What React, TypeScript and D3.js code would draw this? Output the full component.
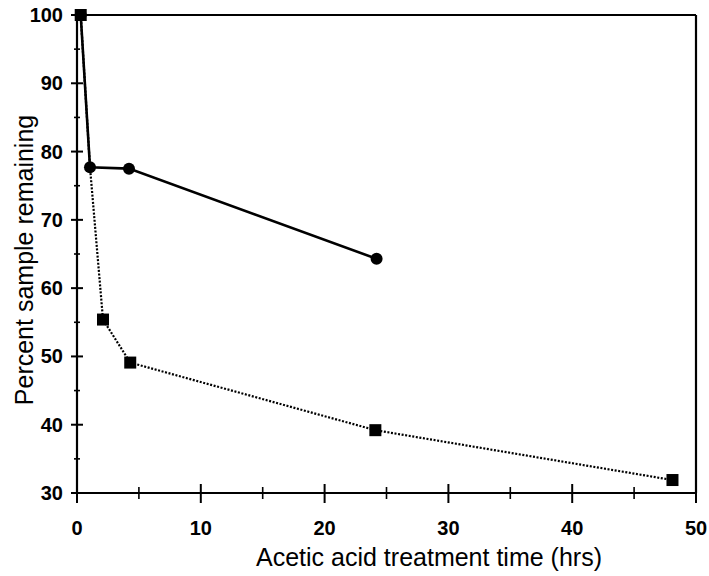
import React from "react";
import * as d3 from "d3";

const circleX = [0.3, 1.05, 4.2, 24.2];
const circleY = [100, 77.7, 77.5, 64.3];
const squareX = [0.3, 1.05, 2.1, 4.3, 24.1, 48.1];
const squareY = [100, 77.7, 55.4, 49.1, 39.2, 31.9];
const squareMarkerIdx = [0, 2, 3, 4, 5];
const xMajor = [0, 10, 20, 30, 40, 50];
const xMinor = [5, 15, 25, 35, 45];
const yMajor = [30, 40, 50, 60, 70, 80, 90, 100];
const yMinor = [35, 45, 55, 65, 75, 85, 95];
const xTitle = "Acetic acid treatment time (hrs)";
const yTitle = "Percent sample remaining";

export default function App() {
  const x = d3.scaleLinear().domain([0, 50]).range([77, 696]);
  const y = d3.scaleLinear().domain([30, 100]).range([493, 15]);
  const line = d3
    .line<[number, number]>()
    .x((d) => x(d[0]))
    .y((d) => y(d[1]));
  const cData: [number, number][] = circleX.map((v, i) => [v, circleY[i]]);
  const sData: [number, number][] = squareX.map((v, i) => [v, squareY[i]]);
  const font = "'Liberation Sans', Arial, Helvetica, sans-serif";
  return (
    <svg
      width={709}
      height={576}
      style={{ position: "absolute", left: 0, top: 0, background: "#fff" }}
    >
      <rect width={709} height={576} fill="#fff" />
      {/* frame */}
      <line x1={x(0)} x2={x(50)} y1={y(100)} y2={y(100)} stroke="#000" strokeWidth={2} />
      <line x1={x(50)} x2={x(50)} y1={y(100)} y2={y(30)} stroke="#000" strokeWidth={2.2} />
      <line x1={x(0)} x2={x(50)} y1={y(30)} y2={y(30)} stroke="#000" strokeWidth={2.2} />
      <line x1={x(0)} x2={x(0)} y1={y(100)} y2={y(30)} stroke="#000" strokeWidth={2.2} />
      {/* x ticks */}
      {xMajor.map((t) => (
        <line key={"xm" + t} x1={x(t)} x2={x(t)} y1={y(30) - 9} y2={y(30) + 10} stroke="#000" strokeWidth={2} />
      ))}
      {xMinor.map((t) => (
        <line key={"xn" + t} x1={x(t)} x2={x(t)} y1={y(30) - 6} y2={y(30) + 6} stroke="#000" strokeWidth={1.6} />
      ))}
      {/* y ticks */}
      {yMajor.map((t) => (
        <line key={"ym" + t} x1={x(0) - 6} x2={x(0) + 6} y1={y(t)} y2={y(t)} stroke="#000" strokeWidth={2} />
      ))}
      {yMinor.map((t) => (
        <line key={"yn" + t} x1={x(0) - 3} x2={x(0) + 3} y1={y(t)} y2={y(t)} stroke="#000" strokeWidth={1.6} />
      ))}
      {/* tick labels */}
      {xMajor.map((t) => (
        <text key={"xl" + t} x={x(t)} y={535} textAnchor="middle" fontFamily={font} fontWeight="bold" fontSize={20} fill="#000">
          {t}
        </text>
      ))}
      {yMajor.map((t) => (
        <text key={"yl" + t} x={63} y={y(t) + 7} textAnchor="end" fontFamily={font} fontWeight="bold" fontSize={20} fill="#000">
          {t}
        </text>
      ))}
      {/* titles */}
      <text x={429} y={566} textAnchor="middle" fontFamily={font} fontSize={25} fill="#000">
        {xTitle}
      </text>
      <text
        transform={`translate(33, ${260}) rotate(-90)`}
        textAnchor="middle"
        fontFamily={font}
        fontSize={25}
        fill="#000"
      >
        {yTitle}
      </text>
      {/* series */}
      <path d={line(sData) || ""} fill="none" stroke="#000" strokeWidth={2.2} strokeDasharray="2 1.6" />
      <path d={line(cData) || ""} fill="none" stroke="#000" strokeWidth={2.6} />
      {cData.map((d, i) => (
        <circle key={"c" + i} cx={x(d[0])} cy={y(d[1])} r={6} fill="#000" />
      ))}
      {squareMarkerIdx.map((i) => (
        <rect key={"s" + i} x={x(sData[i][0]) - 6} y={y(sData[i][1]) - 6} width={12} height={12} fill="#000" />
      ))}
    </svg>
  );
}
